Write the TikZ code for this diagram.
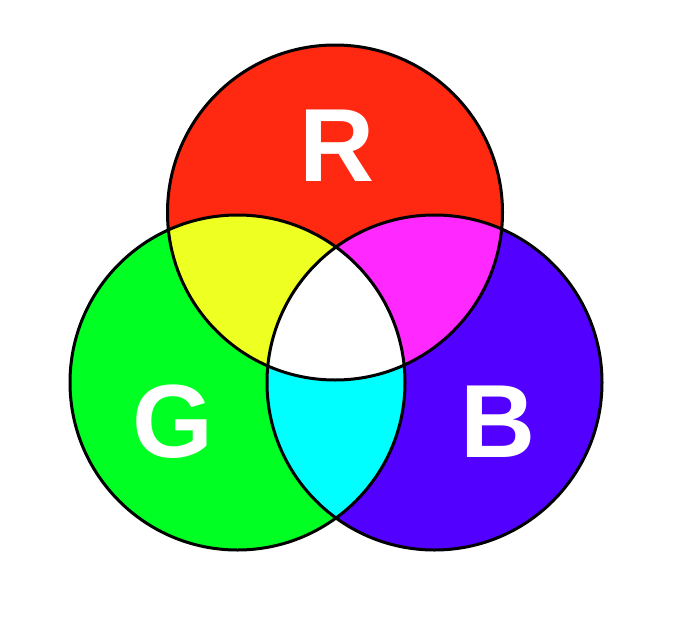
\documentclass[tikz,border=0pt]{standalone}
\usepackage{fontspec}
\setmainfont{Liberation Sans}
\definecolor{cR}{HTML}{FF2810}
\definecolor{cG}{HTML}{00FF22}
\definecolor{cB}{HTML}{5200FF}
\definecolor{cY}{HTML}{EEFF22}
\definecolor{cM}{HTML}{FF28FF}
\definecolor{cC}{HTML}{00FFFF}
\tikzset{
  ring/.style={draw=black, line width=3pt},
  letter/.style={text=white, font=\fontsize{104}{104}\selectfont\bfseries, inner sep=0pt}
}
\begin{document}
\begin{tikzpicture}[x=1pt,y=-1pt]
\useasboundingbox (0,0) rectangle (680,632);
\def\rr{167.5}
\coordinate (r) at (335,212.5);
\coordinate (g) at (237.5,382.5);
\coordinate (b) at (434.5,382.5);
\fill[cR] (r) circle (\rr);
\fill[cG] (g) circle (\rr);
\fill[cB] (b) circle (\rr);
\begin{scope}
  \clip (r) circle (\rr);
  \fill[cY] (g) circle (\rr);
  \fill[cM] (b) circle (\rr);
\end{scope}
\begin{scope}
  \clip (g) circle (\rr);
  \fill[cC] (b) circle (\rr);
\end{scope}
\begin{scope}
  \clip (r) circle (\rr);
  \clip (g) circle (\rr);
  \fill[white] (b) circle (\rr);
\end{scope}
\draw[ring] (r) circle (\rr);
\draw[ring] (g) circle (\rr);
\draw[ring] (b) circle (\rr);
\node[letter] (lr) at (337,146) {R};
\node[letter] (lg) at (173,422) {G};
\node[letter] (lb) at (498,422) {B};
\end{tikzpicture}
\end{document}
